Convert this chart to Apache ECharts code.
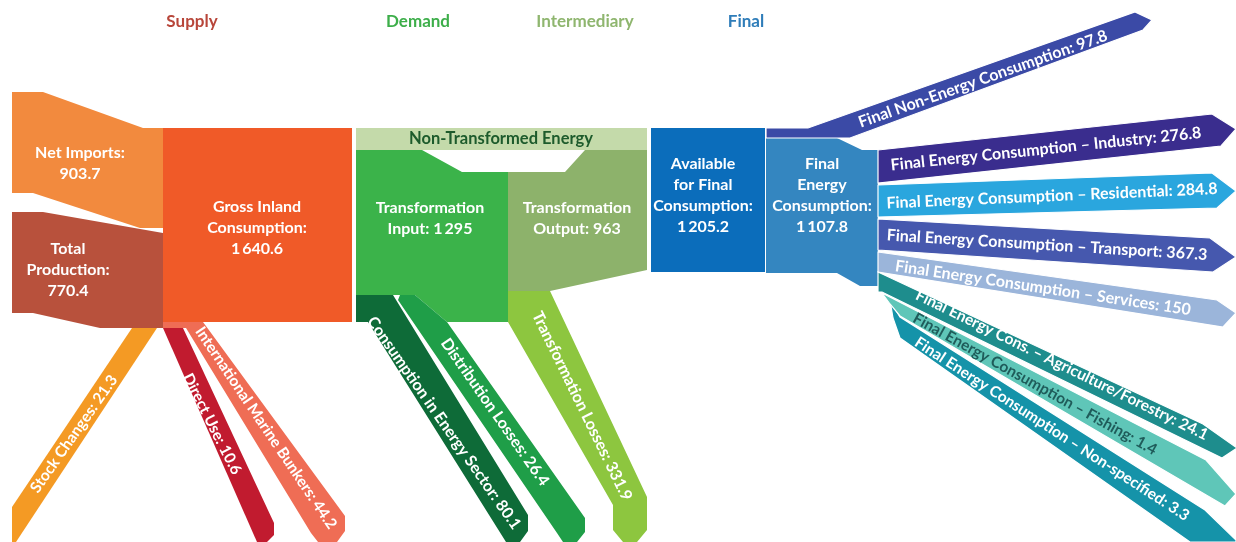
<!DOCTYPE html>
<html><head><meta charset="utf-8">
<script src="https://cdn.jsdelivr.net/npm/echarts@6/dist/echarts.min.js"></script>
<style>html,body{margin:0;padding:0;background:#fff}#c{width:1236px;height:542px}</style>
</head><body><div id="c"></div>
<script>
// ---------------- DATA ----------------
const stageTitles = ['Supply', 'Demand', 'Intermediary', 'Final'];
const supplyNodes = ['Net Imports', 'Total Production', 'Gross Inland Consumption'];
const supplyValues = [903.7, 770.4, 1640.6];
const supplyOutflows = ['Stock Changes', 'Direct Use', 'International Marine Bunkers'];
const supplyOutValues = [21.3, 10.6, 44.2];
const demandNodes = ['Non-Transformed Energy', 'Transformation Input', 'Transformation Output'];
const demandValues = [null, 1295, 963];
const demandOutflows = ['Consumption in Energy Sector', 'Distribution Losses', 'Transformation Losses'];
const demandOutValues = [80.1, 26.4, 331.9];
const finalNodes = ['Available for Final Consumption', 'Final Energy Consumption'];
const finalValues = [1205.2, 1107.8];
const finalOutflows = ['Final Non-Energy Consumption', 'Final Energy Consumption – Industry',
  'Final Energy Consumption – Residential', 'Final Energy Consumption – Transport',
  'Final Energy Consumption – Services', 'Final Energy Cons. – Agriculture/Forestry',
  'Final Energy Consumption – Fishing', 'Final Energy Consumption – Non-specified'];
const finalOutValues = [97.8, 276.8, 284.8, 367.3, 150, 24.1, 1.4, 3.3];

// ---------------- LAYOUT (positions / styles, in diagram units) ----------------
const sets = {
  supply: [supplyNodes, supplyValues], supplyOut: [supplyOutflows, supplyOutValues],
  demand: [demandNodes, demandValues], demandOut: [demandOutflows, demandOutValues],
  final: [finalNodes, finalValues], finalOut: [finalOutflows, finalOutValues]
};
const titleLayout = [
  {x: 192, color: '#B8463A'}, {x: 418, color: '#3DAE4A'}, {x: 585, color: '#8FB66F'}, {x: 746, color: '#2F7DB9'}
];
const shapes = [
  // supply blocks
  {set: 'supply', i: 0, color: '#F28A3E', pts: [[12,92],[43,92],[143,128],[163,128],[163,228],[140,228],[33,193],[12,193]], lab: {at: [80,163], breaks: [2,1]}},
  {set: 'supply', i: 1, color: '#B8513C', pts: [[12,212],[43,212],[163,233],[163,328],[100,328],[33,313],[12,313]], lab: {at: [68,270], breaks: [1,1,1]}},
  {set: 'supply', i: 2, color: '#F05A28', pts: [[163,128],[352,128],[352,322],[163,322]], lab: {at: [257,228], breaks: [2,1,1]}},
  // supply outflows
  {set: 'supplyOut', i: 0, color: '#F49A24', pts: [[132,328],[157,328],[16,542],[12,542],[12,507]], lab: {at: [74,434], rot: 55, size: 15.5}},
  {set: 'supplyOut', i: 1, color: '#C11B2F', pts: [[163,328],[183,328],[274,523],[274,535],[267,542],[257,542],[253,533]], lab: {at: [212,424], rot: -63, size: 15.5}},
  {set: 'supplyOut', i: 2, color: '#EF6D55', pts: [[163,322],[203,322],[345,516],[345,531],[337,542],[318,542],[311,533],[186,328],[163,328]], lab: {at: [266,428], rot: -56, size: 15.5}},
  // demand blocks
  {set: 'demand', i: 0, color: '#C4DAAA', pts: [[356,128],[647,128],[647,150],[356,150]], lab: {at: [501,139], fill: '#1D5B2C', breaks: [3], size: 16.5}},
  {set: 'demand', i: 1, color: '#3BB34A', pts: [[356,150],[422,150],[462,172],[508,172],[508,322],[447,322],[415,295],[356,295]], lab: {at: [430,218], breaks: [1,2]}},
  {set: 'demand', i: 2, color: '#8DB26B', pts: [[508,172],[565,172],[585,150],[647,150],[647,270],[550,291],[508,291]], lab: {at: [577,218], breaks: [1,2]}},
  // demand outflows
  {set: 'demandOut', i: 0, color: '#0E6B38', pts: [[356,295],[393,295],[528,515],[528,531],[520,542],[506,542],[368,322],[356,322]], lab: {at: [444,423], rot: -55}},
  {set: 'demandOut', i: 1, color: '#1F9E48', pts: [[400,295],[415,295],[447,322],[585,518],[585,532],[577,542],[563,542],[557,533],[398,300]], lab: {at: [495,412], rot: -55}},
  {set: 'demandOut', i: 2, color: '#8DC63F', pts: [[508,291],[550,291],[647,497],[647,530],[637,542],[623,542],[613,530],[613,505],[508,322]], lab: {at: [582,406], rot: -64}},
  // final blocks
  {set: 'final', i: 0, color: '#0B6DBB', pts: [[651,128],[765,128],[765,272],[651,272]], lab: {at: [703,195], breaks: [1,2,1,1]}},
  {set: 'final', i: 1, color: '#3486C0', pts: [[766,138],[837,138],[862,150],[878,150],[878,286],[860,286],[837,273],[766,273]], lab: {at: [822,195], breaks: [1,1,1,1]}},
  // final outflows
  {set: 'finalOut', i: 0, color: '#3B4AA6', pts: [[766,128],[808,128],[1135,12],[1152,20],[1143,30],[850,138],[766,138]], lab: {at: [983,79], rot: 19.5}},
  {set: 'finalOut', i: 1, color: '#3A2D8E', pts: [[878,150],[1212,114],[1236,129],[1221,146],[878,183]], lab: {at: [1046,149], rot: 6}},
  {set: 'finalOut', i: 2, color: '#2AA6DE', pts: [[878,185],[1212,173],[1236,191],[1217,208],[878,217]], lab: {at: [1052,196], rot: 2.5}},
  {set: 'finalOut', i: 3, color: '#4658AE', pts: [[878,219],[1210,238],[1236,257],[1213,272],[878,250]], lab: {at: [1047,245], rot: -3.5}},
  {set: 'finalOut', i: 4, color: '#9BB5DA', pts: [[878,252],[1217,300],[1236,313],[1223,327],[878,272]], lab: {at: [1043,288], rot: -8.5}},
  {set: 'finalOut', i: 7, color: '#1593A9', pts: [[890,300],[900,317],[1205,510],[1236,540],[1236,542],[1190,542],[900,338],[893,318]], lab: {at: [1052,429], rot: -33, size: 15.5}},
  {set: 'finalOut', i: 6, color: '#5FC6B8', pts: [[882,293],[1206,460],[1236,494],[1225,506],[900,316],[890,304]], lab: {at: [1035,384], rot: -29, fill: '#1F5C5A', size: 15.5}},
  {set: 'finalOut', i: 5, color: '#1E8D8D', pts: [[878,272],[1203,424],[1237,448],[1222,458],[882,292],[878,292]], lab: {at: [1062,365], rot: -26, size: 15.5}}
];

// ---------------- helpers ----------------
function fmt(v) {
  const parts = String(v).split('.');
  const ip = parts[0].replace(/\B(?=(\d{3})+(?!\d))/g, '\u2009');
  return parts.length > 1 ? ip + '.' + parts[1] : ip;
}
function labelText(name, value, breaks) {
  const full = value == null ? name : name + ': ' + fmt(value);
  if (!breaks) return full;
  const words = full.split(' ');
  const lines = []; let k = 0;
  breaks.forEach(function (n) { lines.push(words.slice(k, k + n).join(' ')); k += n; });
  if (k < words.length) lines[lines.length - 1] += ' ' + words.slice(k).join(' ');
  return lines.join('\n');
}
const FONT = 'Lato, "Open Sans", sans-serif';

const chart = echarts.init(document.getElementById('c'), null, {renderer: 'canvas'});
chart.setOption({
  animation: false,
  backgroundColor: '#ffffff',
  grid: {left: 0, right: 0, top: 0, bottom: 0},
  xAxis: {type: 'value', min: 0, max: 1236, show: false},
  yAxis: {type: 'value', min: 0, max: 542, inverse: true, show: false},
  series: [
    {
      type: 'custom', silent: true, clip: false,
      data: shapes.map(function (s, k) { return [k, sets[s.set][1][s.i]]; }),
      renderItem: function (params, api) {
        const s = shapes[params.dataIndex];
        const names = sets[s.set][0], vals = sets[s.set][1];
        const pts = s.pts.map(function (p) { return api.coord(p); });
        const c = api.coord(s.lab.at);
        const children = [{
          type: 'polygon', shape: {points: pts},
          style: {fill: s.color, stroke: '#ffffff', lineWidth: s.set === 'finalOut' ? 1.2 : 0}
        }];
        const rotated = s.lab.rot != null;
        children.push({
          type: 'text', x: c[0], y: c[1],
          rotation: rotated ? s.lab.rot * Math.PI / 180 : 0,
          z2: 10,
          style: {
            text: labelText(names[s.i], vals[s.i], s.lab.breaks),
            fill: s.lab.fill || '#ffffff',
            fontSize: s.lab.size || 16, fontWeight: 'bold', fontFamily: FONT,
            align: 'center', verticalAlign: 'middle', lineHeight: 21
          }
        });
        return {type: 'group', children: children};
      }
    },
    {
      type: 'custom', silent: true, clip: false,
      data: stageTitles.map(function (t, k) { return [k]; }),
      renderItem: function (params, api) {
        const t = titleLayout[params.dataIndex];
        const c = api.coord([t.x, 22]);
        return {type: 'text', x: c[0], y: c[1], style: {
          text: stageTitles[params.dataIndex], fill: t.color, fontSize: 17, fontWeight: 'bold',
          fontFamily: FONT, align: 'center', verticalAlign: 'middle'}};
      }
    }
  ]
});
</script>
</body></html>
